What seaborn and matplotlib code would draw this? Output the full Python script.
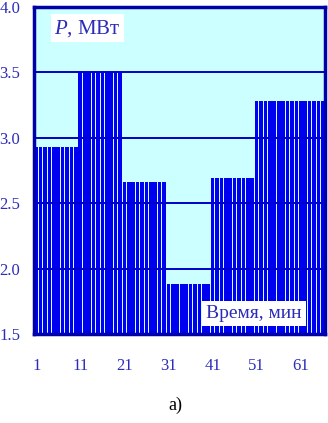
"""Ступенчатый график мощности P (МВт) по минутам."""

import matplotlib

matplotlib.use("Agg")
import matplotlib.pyplot as plt
import pandas as pd
import seaborn as sns

# значения мощности по интервалам (10 минут на ступень, последняя 16 минут)
STUPENI = [2.93, 3.50, 2.66, 1.88, 2.69, 3.28]
DLITELNOST = [10, 10, 10, 10, 10, 16]
METKI_X = ["1", "11", "21", "31", "41", "51", "61"]
METKI_Y = [1.5, 2.0, 2.5, 3.0, 3.5, 4.0]

SINIY = "#0000f0"
RAMKA = "#0000a8"
TEKST = "#2c2cb8"


def dannye() -> pd.DataFrame:
    znach = []
    for p, n in zip(STUPENI, DLITELNOST):
        znach += [p] * n
    return pd.DataFrame({"minuta": range(1, len(znach) + 1), "P": znach})


def main() -> None:
    df = dannye()
    sns.set_style("white")
    plt.rcParams["font.family"] = ["Liberation Serif", "DejaVu Serif"]
    plt.rcParams["mathtext.fontset"] = "custom"
    plt.rcParams["mathtext.it"] = "Liberation Serif:italic"
    plt.rcParams["mathtext.rm"] = "Liberation Serif"

    fig = plt.figure(figsize=(3.28, 4.23), dpi=100)
    ax = fig.add_axes([34 / 328, 1 - 334 / 423, 291 / 328, 327 / 423])
    ax.set_facecolor("#ccffff")

    sns.barplot(data=df, x="minuta", y="P", color=SINIY, saturation=1,
                width=0.82, linewidth=0, ax=ax, zorder=2)
    ax.set_ylim(METKI_Y[0], METKI_Y[-1])
    ax.set_xlim(-0.5, len(df) - 0.5)
    for y in METKI_Y[1:-1]:
        ax.axhline(y, color="#0000c8", lw=1.4, zorder=3)

    ax.set_yticks(METKI_Y)
    ax.set_yticklabels([f"{v:.1f}" for v in METKI_Y])
    ax.set_xticks([10 * i for i in range(len(METKI_X))])
    ax.set_xticklabels(METKI_X)
    ax.tick_params(axis="both", length=0, labelsize=12, labelcolor=TEKST)
    ax.tick_params(axis="y", pad=10)
    ax.tick_params(axis="x", pad=17)
    ax.set_xlabel("")
    ax.set_ylabel("")
    for sp in ax.spines.values():
        sp.set_color(RAMKA)
        sp.set_linewidth(2.5)
        sp.set_zorder(5)

    ax.text(0.07, 0.935, "$P$, МВт", transform=ax.transAxes, fontsize=15,
            color=TEKST, va="center", ha="left", zorder=6,
            bbox=dict(facecolor="white", edgecolor="none", pad=2.5))
    ax.text(0.92, 0.063, "Время, мин", transform=ax.transAxes, fontsize=14,
            color=TEKST, va="center", ha="right", zorder=6,
            bbox=dict(facecolor="white", edgecolor="none", pad=3))

    fig.text(175 / 328, 1 - 405 / 423, "а)", fontsize=13, color="black",
             ha="center", va="center")
    fig.savefig("out.png", dpi=100)
    plt.close(fig)


if __name__ == "__main__":
    main()
